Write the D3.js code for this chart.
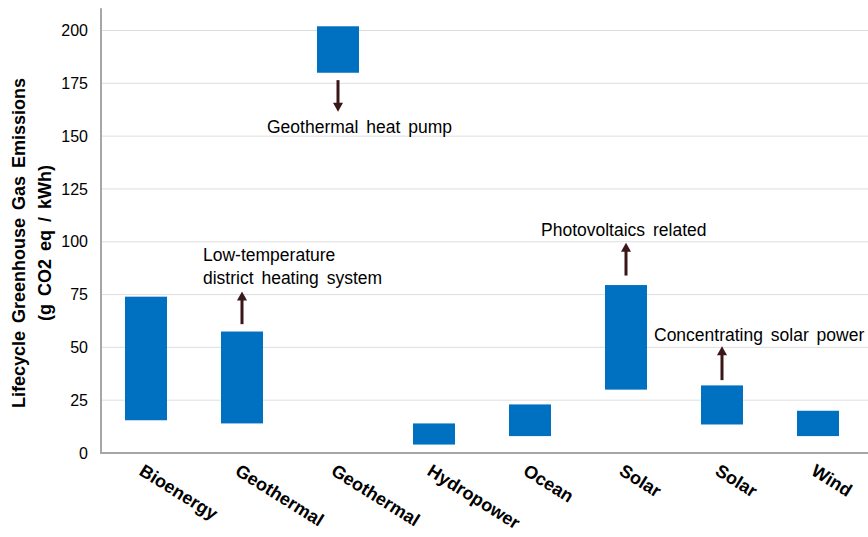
<!DOCTYPE html>
<html>
<head>
<meta charset="utf-8">
<script src="https://cdn.jsdelivr.net/npm/d3@7"></script>
<style>
  body { margin: 0; background: #fff; }
  text { font-family: Arial, "Liberation Sans", sans-serif; fill: #000; }
</style>
</head>
<body>
<svg width="868" height="537"></svg>
<script>
// categories and min / max ranges (g CO2 eq / kWh)
const categories = ['Bioenergy', 'Geothermal', 'Geothermal', 'Hydropower', 'Ocean', 'Solar', 'Solar', 'Wind'];
const lowValues = [15.5, 14, 180, 4, 8, 30, 13.5, 8];
const highValues = [74, 57.5, 202, 14, 23, 79.5, 32, 20];
const yTicks = [0, 25, 50, 75, 100, 125, 150, 175, 200];

// annotations: category index, arrow start value, arrow tip value, text lines
const annoIndex = [1, 2, 5, 6];
const annoFrom = [61, 176.5, 84, 34.5];
const annoTo = [76.5, 161.5, 99.5, 50.5];
const annoText = [
  ['Low-temperature', 'district heating system'],
  ['Geothermal heat pump'],
  ['Photovoltaics related'],
  ['Concentrating solar power']
];
// label offsets from arrow (dx from arrow x, baseline y)
const annoDx = [-39, -71, -85, -68];
const annoY = [261, 133, 236, 341];

const svg = d3.select('svg');
const axisX = 101;

const x = d3.scaleBand().domain(d3.range(categories.length)).range([98, 866]);
const y = d3.scaleLinear().domain([0, 200]).range([453, 30.5]);
const barW = 42;
const cx = i => x(i) + x.bandwidth() / 2;

// gridlines
svg.append('g')
  .selectAll('line')
  .data(yTicks.slice(1))
  .enter().append('line')
  .attr('x1', axisX).attr('x2', 868)
  .attr('y1', d => y(d)).attr('y2', d => y(d))
  .attr('stroke', '#dedede')
  .attr('stroke-width', 1);

// y axis
const yAxis = svg.append('g')
  .attr('transform', 'translate(' + axisX + ',0)')
  .call(d3.axisLeft(y).tickValues(yTicks).tickSize(0).tickPadding(13));
yAxis.select('.domain').remove();
yAxis.selectAll('text')
  .style('font', '16px Arial, "Liberation Sans", sans-serif')
  .attr('fill', '#000');

svg.append('line')
  .attr('x1', axisX).attr('x2', axisX)
  .attr('y1', y(0)).attr('y2', y(210.5))
  .attr('stroke', '#a6a6a6').attr('stroke-width', 2);
svg.append('line')
  .attr('x1', axisX - 1).attr('x2', 868)
  .attr('y1', y(0)).attr('y2', y(0))
  .attr('stroke', '#a6a6a6').attr('stroke-width', 2);

// y title
const yTitle = svg.append('text')
  .attr('transform', 'translate(25,' + 243 + ') rotate(-90)')
  .attr('text-anchor', 'middle')
  .style('font-weight', 'bold')
  .style('font-size', '18px')
  .style('word-spacing', '3px');
yTitle.append('tspan').attr('x', 0).attr('y', 0).text('Lifecycle Greenhouse Gas Emissions');
yTitle.append('tspan').attr('x', 0).attr('y', 26).text('(g CO2 eq / kWh)');

// bars
svg.append('g')
  .selectAll('rect')
  .data(categories)
  .enter().append('rect')
  .attr('x', (d, i) => cx(i) - barW / 2)
  .attr('width', barW)
  .attr('y', (d, i) => y(highValues[i]))
  .attr('height', (d, i) => y(lowValues[i]) - y(highValues[i]))
  .attr('fill', '#0070c0');

// x labels
svg.append('g')
  .selectAll('text')
  .data(categories)
  .enter().append('text')
  .attr('transform', (d, i) => 'translate(' + (cx(i) - 8) + ',' + (y(0) + 21) + ') rotate(32)')
  .style('font-weight', 'bold')
  .style('font-size', '18px')
  .text(d => d);

// arrows
const arrowColor = '#3b1719';
annoIndex.forEach((ci, k) => {
  const ax = cx(ci);
  const y0 = y(annoFrom[k]), y1 = y(annoTo[k]);
  const dir = y1 < y0 ? -1 : 1;
  svg.append('line')
    .attr('x1', ax).attr('x2', ax)
    .attr('y1', y0).attr('y2', y1 - dir * 8)
    .attr('stroke', arrowColor).attr('stroke-width', 3);
  svg.append('path')
    .attr('d', 'M' + (ax - 5) + ',' + (y1 - dir * 9) + 'L' + ax + ',' + y1 + 'L' + (ax + 5) + ',' + (y1 - dir * 9) + 'Z')
    .attr('fill', arrowColor);
  const t = svg.append('text')
    .style('font-size', '17.5px')
    .style('word-spacing', '3px');
  annoText[k].forEach((line, j) => {
    t.append('tspan')
      .attr('x', ax + annoDx[k])
      .attr('y', annoY[k] + j * 23)
      .text(line);
  });
});
</script>
</body>
</html>
